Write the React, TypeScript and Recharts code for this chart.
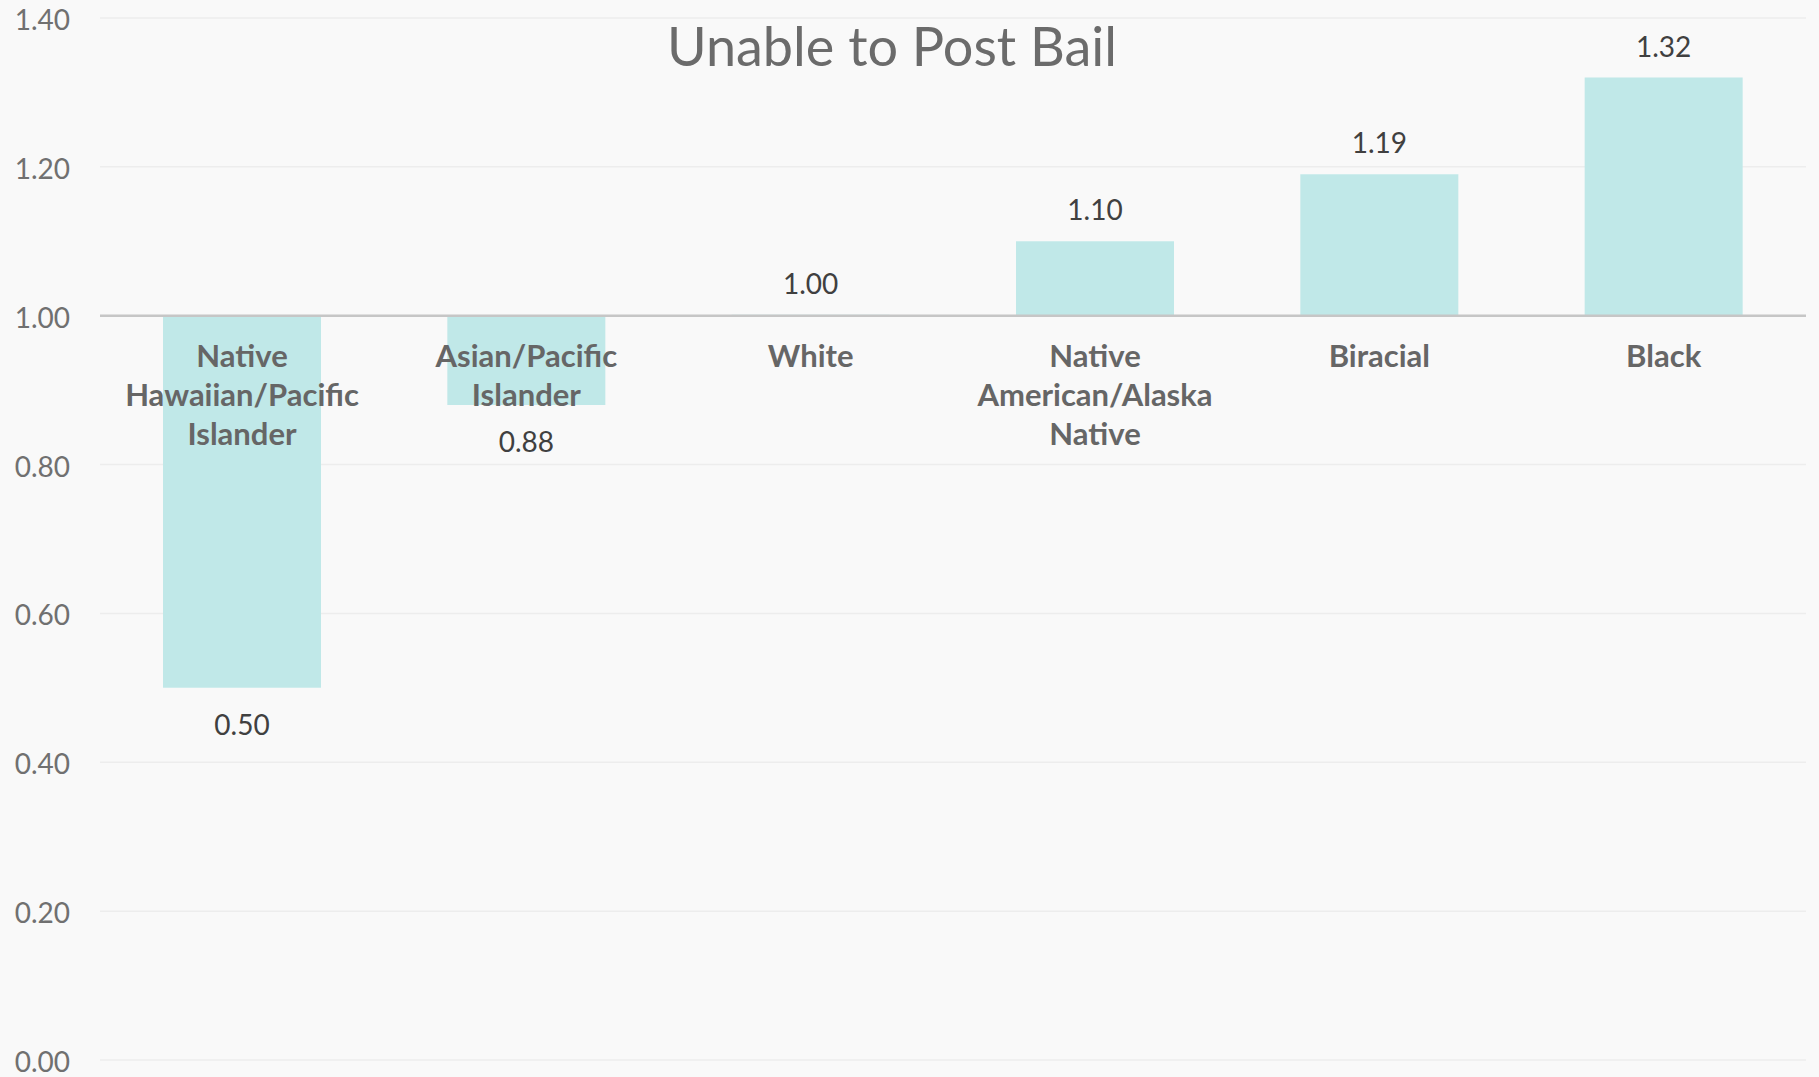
import { BarChart, Bar, XAxis, YAxis, CartesianGrid, ReferenceLine, LabelList } from "recharts";

const groups = [
  "Native Hawaiian/Pacific Islander",
  "Asian/Pacific Islander",
  "White",
  "Native American/Alaska Native",
  "Biracial",
  "Black",
];
const ratios = [0.5, 0.88, 1.0, 1.1, 1.19, 1.32];
const yTicks = [0, 0.2, 0.4, 0.6, 0.8, 1.0, 1.2, 1.4];
const baseline = 1;

// bars hang from the 1.00 line, so each one is a [low, high] range
const data = groups.map((name, i) => ({
  name,
  value: ratios[i],
  range: [Math.min(baseline, ratios[i]), Math.max(baseline, ratios[i])],
}));

const font = "Lato, 'Open Sans', sans-serif";

function ValueLabel(props: any) {
  const { x, y, width, height, value } = props;
  const cx = x + width / 2;
  const above = value >= baseline;
  const top = Math.min(y, y + height);
  const bottom = Math.max(y, y + height);
  const ty = above ? top - 21 : bottom + 47;
  return (
    <text x={cx} y={ty} textAnchor="middle" fill="#404040" fontSize={28} fontFamily={font}>
      {Number(value).toFixed(2)}
    </text>
  );
}

function GroupLabel(props: any) {
  const { x, y, width, height, index } = props;
  const cx = x + width / 2;
  const v = ratios[index];
  const base = v >= baseline ? Math.max(y, y + height) : Math.min(y, y + height);
  const lines = String(props.value).split(" ");
  return (
    <text textAnchor="middle" fill="#666666" fontSize={31} fontWeight={700} fontFamily={font}>
      {lines.map((l, i) => (
        <tspan key={i} x={cx} y={base + 51 + i * 39}>
          {l}
        </tspan>
      ))}
    </text>
  );
}

export default function App() {
  return (
    <div style={{ position: "relative", width: 1819, height: 1077, background: "#f9f9f9" }}>
      <style>{`body{margin:0}`}</style>
      <BarChart
        width={1819}
        height={1077}
        data={data}
        margin={{ top: 18, right: 13, left: 0, bottom: 17 }}
      >
        <CartesianGrid vertical={false} stroke="#ededed" strokeWidth={1.5} />
        <XAxis dataKey="name" hide />
        <YAxis
          width={100}
          domain={[0, 1.4]}
          ticks={yTicks}
          tickFormatter={(v: number) => v.toFixed(2)}
          axisLine={false}
          tickLine={false}
          tickSize={0}
          tickMargin={30}
          tick={{ fill: "#707070", fontSize: 28, fontFamily: font, dy: 2 }}
        />
        <Bar dataKey="range" fill="#c0e8e8" barSize={158} minPointSize={1} isAnimationActive={false}>
          <LabelList dataKey="value" content={ValueLabel} />
          <LabelList dataKey="name" content={GroupLabel} />
        </Bar>
        <ReferenceLine y={baseline} stroke="#c6c6c6" strokeWidth={2.5} />
      </BarChart>
      <svg
        width={1819}
        height={100}
        style={{ position: "absolute", left: 0, top: 0, pointerEvents: "none" }}
      >
        <text x={892} y={66} textAnchor="middle" fill="#6b6b6b" fontSize={54} fontFamily={font}>
          Unable to Post Bail
        </text>
      </svg>
    </div>
  );
}
